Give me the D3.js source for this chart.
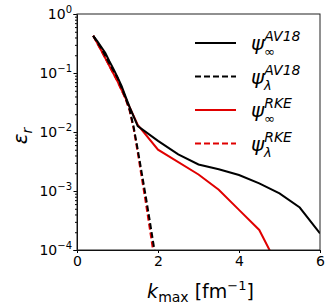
<!DOCTYPE html>
<meta charset="utf-8">
<head>
    <title>Truncation error</title>
    <script src="https://cdn.jsdelivr.net/npm/d3@7"></script>
</head>
<style>
    body { margin: 0; background: white; }
    text { font-family: "DejaVu Sans", sans-serif; fill: black; }
    .curve { fill: none; stroke-width: 2px; }
</style>
<svg></svg>
<script>
    var vWidth = 333;
    var vHeight = 308;
    var vMargin = {left: 77, right: 13, top: 14, bottom: 58};

    // k_max values (fm^-1) and log10 of the relative error
    var kSolidAV18 = [0.4, 0.5, 0.6, 0.7, 0.8, 0.9, 1.0, 1.1, 1.2, 1.3, 1.5, 2.0, 2.5, 3.0, 3.5, 4.0, 4.5, 5.0, 5.5, 6.0];
    var eSolidAV18 = [-0.37, -0.46, -0.56, -0.66, -0.80, -0.93, -1.07, -1.22, -1.40, -1.58, -1.90, -2.15, -2.38, -2.55, -2.63, -2.73, -2.87, -3.04, -3.28, -3.72];
    var kDashAV18 = [0.4, 0.6, 0.8, 1.0, 1.2, 1.3, 1.4, 1.5, 1.6, 1.7, 1.8, 1.9, 2.0];
    var eDashAV18 = [-0.37, -0.58, -0.84, -1.08, -1.42, -1.62, -1.92, -2.30, -2.70, -3.10, -3.52, -3.95, -4.38];
    var kSolidRKE = [0.4, 0.6, 0.8, 1.0, 1.2, 1.5, 2.0, 3.0, 3.5, 4.0, 4.5, 5.0];
    var eSolidRKE = [-0.37, -0.62, -0.88, -1.14, -1.43, -1.88, -2.30, -2.72, -2.98, -3.32, -3.66, -4.33];
    var kDashRKE = [0.4, 0.6, 0.8, 1.0, 1.2, 1.3, 1.4, 1.5, 1.6, 1.7, 1.8, 1.9, 2.0];
    var eDashRKE = [-0.37, -0.62, -0.88, -1.14, -1.44, -1.64, -1.95, -2.35, -2.78, -3.20, -3.65, -4.10, -4.55];

    var xTicks = [0, 2, 4, 6];
    var yTicks = [0, -1, -2, -3, -4];

    var vSeries = [
        {k: kSolidAV18, e: eSolidAV18, color: 'black', dash: null, sup: 'AV18', sub: '∞'},
        {k: kDashAV18, e: eDashAV18, color: 'black', dash: '6,3', sup: 'AV18', sub: 'λ'},
        {k: kSolidRKE, e: eSolidRKE, color: '#e00000', dash: null, sup: 'RKE', sub: '∞'},
        {k: kDashRKE, e: eDashRKE, color: '#e00000', dash: '6,3', sup: 'RKE', sub: 'λ'}
    ];

    var svg = d3.select('svg').attr('width', vWidth).attr('height', vHeight);

    var x = d3.scaleLinear().domain([0, 6]).range([vMargin.left, vWidth - vMargin.right]);
    var y = d3.scaleLog().domain([1e-4, 1]).range([vHeight - vMargin.bottom, vMargin.top]);

    svg.append('defs').append('clipPath').attr('id', 'plot')
        .append('rect')
        .attr('x', x(0)).attr('y', y(1))
        .attr('width', x(6) - x(0)).attr('height', y(1e-4) - y(1));

    // curves
    var line = d3.line()
        .x(function (d) { return x(d[0]); })
        .y(function (d) { return y(Math.pow(10, d[1])); });

    svg.append('g').attr('clip-path', 'url(#plot)')
        .selectAll('path').data(vSeries.slice().reverse()).enter().append('path')
        .attr('class', 'curve')
        .attr('stroke', function (d) { return d.color; })
        .attr('stroke-dasharray', function (d) { return d.dash; })
        .attr('d', function (d) { return line(d3.zip(d.k, d.e)); });

    // axes
    var xAxis = svg.append('g')
        .attr('transform', 'translate(0,' + y(1e-4) + ')')
        .call(d3.axisBottom(x).tickValues(xTicks).tickSize(3).tickPadding(3).tickFormat(d3.format('d')));
    xAxis.selectAll('text').style('font-size', '14px').attr('font-family', 'DejaVu Sans');

    var minor = [];
    for (var p = -4; p < 0; p++) {
        for (var m = 2; m < 10; m++) minor.push(m * Math.pow(10, p));
    }
    svg.append('g')
        .attr('transform', 'translate(' + x(0) + ',0)')
        .call(d3.axisLeft(y).tickValues(minor).tickSize(2).tickFormat(''))
        .select('.domain').remove();

    var yAxis = svg.append('g')
        .attr('transform', 'translate(' + x(0) + ',0)')
        .call(d3.axisLeft(y).tickValues(yTicks.map(function (t) { return Math.pow(10, t); }))
            .tickSize(3.5).tickPadding(3).tickFormat(''));

    yAxis.selectAll('.tick').each(function (d) {
        var t = d3.select(this).append('text')
            .attr('x', -5).attr('dy', '0.35em')
            .attr('text-anchor', 'end')
            .style('font-size', '14px');
        t.append('tspan').text('10');
        t.append('tspan').attr('dy', -6).style('font-size', '10px')
            .text(Math.round(Math.log10(d)) === 0 ? '0' : '−' + (-Math.round(Math.log10(d))));
    });

    // frame
    svg.append('rect')
        .attr('x', x(0)).attr('y', y(1))
        .attr('width', x(6) - x(0)).attr('height', y(1e-4) - y(1))
        .attr('fill', 'none').attr('stroke', '#222').attr('stroke-width', 1);

    // axis labels
    var xl = svg.append('text')
        .attr('x', (x(0) + x(6)) / 2 + 2).attr('y', 298)
        .attr('text-anchor', 'middle')
        .style('font-size', '19px');
    xl.append('tspan').style('font-style', 'italic').text('k');
    xl.append('tspan').attr('dy', 4).style('font-size', '14px').text('max');
    xl.append('tspan').attr('dy', -4).text(' [fm');
    xl.append('tspan').attr('dy', -8).style('font-size', '13px').text('−1');
    xl.append('tspan').attr('dy', 8).text(']');

    var yl = svg.append('text')
        .attr('transform', 'translate(27,' + (y(1e-2) + 4) + ') rotate(-90)')
        .attr('text-anchor', 'middle')
        .style('font-size', '20px').style('font-style', 'italic');
    yl.append('tspan').text('ε');
    yl.append('tspan').attr('dy', 5).style('font-size', '14px').text('r');

    // legend
    var legend = svg.append('g').selectAll('g').data(vSeries).enter().append('g')
        .attr('transform', function (d, i) { return 'translate(195,' + (43 + i * 33.5) + ')'; });
    legend.append('line')
        .attr('x1', 0).attr('x2', 41)
        .attr('stroke', function (d) { return d.color; })
        .attr('stroke-width', 2)
        .attr('stroke-dasharray', function (d) { return d.dash; });
    var lt = legend.append('text').attr('x', 56).attr('y', 7)
        .style('font-size', '20px').style('font-style', 'italic');
    lt.append('tspan').text('ψ');
    lt.append('tspan').attr('dy', -9).style('font-size', '14px').text(function (d) { return d.sup; });
    lt.append('tspan')
        .attr('x', 69)
        .attr('dy', 15).style('font-size', '13px').text(function (d) { return d.sub; });
</script>
